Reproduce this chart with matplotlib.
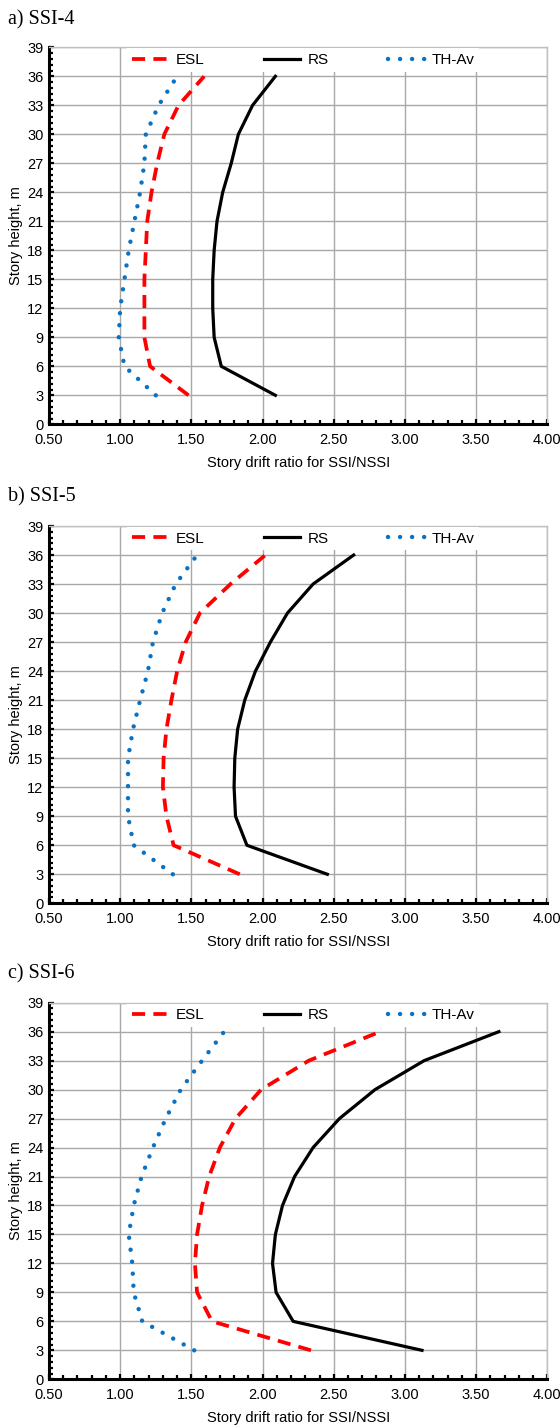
import matplotlib
matplotlib.use("Agg")
import matplotlib.pyplot as plt
from matplotlib.ticker import MultipleLocator
import numpy as np

plt.rcParams["font.family"] = ["Liberation Sans", "DejaVu Sans"]

# story heights (m) where drift ratios were evaluated
heights = [3, 6, 9, 12, 15, 18, 21, 24, 27, 30, 33, 36]

# SSI/NSSI drift ratios, SSI-4 soil
esl_4 = [1.48, 1.21, 1.17, 1.17, 1.17, 1.18, 1.19, 1.22, 1.26, 1.31, 1.41, 1.59]
rs_4 = [2.09, 1.71, 1.66, 1.65, 1.65, 1.66, 1.68, 1.72, 1.78, 1.83, 1.93, 2.09]
th_4 = [1.25, 1.03, 0.99, 1.00, 1.03, 1.06, 1.10, 1.14, 1.17, 1.18, 1.27, 1.40]

# SSI-5 soil
esl_5 = [1.84, 1.375, 1.325, 1.30, 1.305, 1.325, 1.36, 1.40, 1.46, 1.56, 1.775, 2.02]
rs_5 = [2.455, 1.89, 1.81, 1.80, 1.805, 1.825, 1.875, 1.95, 2.055, 2.175, 2.355, 2.64]
th_5 = [1.37, 1.095, 1.055, 1.055, 1.055, 1.09, 1.14, 1.195, 1.23, 1.295, 1.39, 1.54]

# SSI-6 soil
esl_6 = [2.34, 1.645, 1.54, 1.525, 1.54, 1.575, 1.625, 1.70, 1.81, 1.99, 2.325, 2.825]
rs_6 = [3.12, 2.215, 2.095, 2.07, 2.09, 2.14, 2.225, 2.355, 2.54, 2.79, 3.135, 3.66]
th_6 = [1.52, 1.155, 1.095, 1.085, 1.06, 1.095, 1.15, 1.23, 1.32, 1.425, 1.575, 1.73]

panel_titles = ["a) SSI-4", "b) SSI-5", "c) SSI-6"]
series = [(esl_4, rs_4, th_4), (esl_5, rs_5, th_5), (esl_6, rs_6, th_6)]

W, H = 560, 1428
fig = plt.figure(figsize=(W / 100, H / 100), dpi=100)

# (top, bottom) of each plot box in pixels, and baseline of its caption
boxes = [(47.3, 424.3), (526.0, 903.3), (1002.7, 1379.3)]
caption_y = [24.5, 501.5, 978.5]
left_px, right_px = 49, 547.3

for title, (esl, rs, th), (top, bot), cy in zip(panel_titles, series, boxes, caption_y):
    ax = fig.add_axes([left_px / W, 1 - bot / H, (right_px - left_px) / W, (bot - top) / H])
    ax.plot(esl, heights, color="#ff0000", lw=2.7, linestyle=(0, (3.5, 2.2)), label="ESL", zorder=3)
    ax.plot(rs, heights, color="black", lw=2.3, label="RS", zorder=3)
    ax.plot(th, heights, color="#0a72c4", lw=3.2, linestyle=(0, (0.01, 2.7)),
            dash_capstyle="round", label="TH-Av", zorder=3)

    ax.set_xlim(0.5, 4.0)
    ax.set_ylim(0, 39)
    ax.xaxis.set_major_locator(MultipleLocator(0.5))
    ax.xaxis.set_minor_locator(MultipleLocator(0.1))
    ax.yaxis.set_major_locator(MultipleLocator(3))
    ax.yaxis.set_minor_locator(MultipleLocator(0.6))
    ax.xaxis.set_major_formatter(plt.FuncFormatter(lambda v, p: f"{v:.2f}"))

    ax.grid(True, which="major", color="#a8a8a8", lw=1.0, zorder=0)
    ax.set_axisbelow(True)
    for side in ("top", "right"):
        ax.spines[side].set_color("#c0c0c0")
        ax.spines[side].set_linewidth(1.0)
    for side in ("left", "bottom"):
        ax.spines[side].set_color("black")
        ax.spines[side].set_linewidth(2.2)
    ax.tick_params(which="both", direction="in", color="black", width=1.6, labelsize=10.5)
    ax.tick_params(which="major", length=3.5)
    ax.tick_params(which="minor", length=3)
    ax.tick_params(axis="x", pad=6)
    ax.tick_params(axis="y", pad=4)
    ax.tick_params(which="both", top=False, right=False)

    ax.set_xlabel("Story drift ratio for SSI/NSSI", fontsize=10.5, labelpad=7)
    ax.set_ylabel("Story height, m", fontsize=10.5, labelpad=3)

    leg = ax.legend(loc="upper center", bbox_to_anchor=(0.51, 0.997), ncol=3, fontsize=11,
                    frameon=True, fancybox=False, edgecolor="none", framealpha=1.0,
                    handlelength=2.4, handletextpad=0.45, columnspacing=3.9,
                    borderpad=0.3, borderaxespad=0.0)
    leg.get_frame().set_linewidth(0)
    leg.set_zorder(5)

    fig.text(7.5 / W, 1 - cy / H, title, fontsize=14.5, family=["Liberation Serif", "DejaVu Serif"],
             va="baseline", ha="left")

fig.savefig("out.png", dpi=100)
